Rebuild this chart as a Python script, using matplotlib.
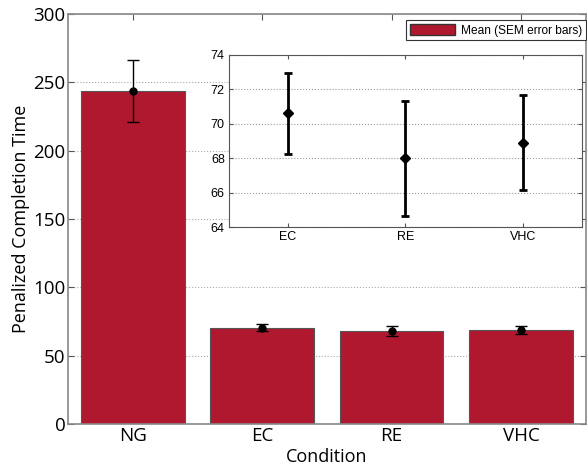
import numpy as np
import matplotlib
matplotlib.use('Agg')
import matplotlib.pyplot as plt
from matplotlib.patches import Patch

conditions = ['NG', 'EC', 'RE', 'VHC']
means = [243.5, 70.6, 68.0, 68.9]
sems = [22.7, 2.35, 3.35, 2.75]

inset_conditions = ['EC', 'RE', 'VHC']
inset_means = [70.6, 68.0, 68.9]
inset_sems = [2.35, 3.35, 2.75]

bar_color = '#b0182f'
spine_color = '#888888'
main_font = 'Open Sans'
small_font = 'Liberation Sans'

fig = plt.figure(figsize=(5.87, 4.74), dpi=100)
ax = fig.add_axes([0.116, 0.1055, 0.882, 0.865])

x = np.arange(1, len(conditions) + 1)
ax.bar(x, means, width=0.8, color=bar_color, edgecolor='#555555', linewidth=0.8, zorder=2)
ax.errorbar(x, means, yerr=sems, fmt='o', color='k', ms=5, capsize=4,
            elinewidth=1, capthick=1, zorder=3)

ax.set_xlim(0.5, 4.5)
ax.set_ylim(0, 300)
ax.set_xticks(x)
ax.set_xticklabels(conditions, fontsize=13.5, family=main_font)
ax.set_yticks(np.arange(0, 301, 50))
for lab in ax.get_yticklabels():
    lab.set_fontsize(13.5)
    lab.set_family(main_font)
ax.yaxis.grid(True, linestyle=':', color='#aaaaaa', linewidth=0.8, zorder=0)
ax.set_axisbelow(True)
ax.tick_params(direction='in', top=True, right=True, length=4, color='#555555', pad=2)
for s in ax.spines.values():
    s.set_color(spine_color)
    s.set_linewidth(1.2)
ax.set_xlabel('Condition', fontsize=13, family=main_font, labelpad=2)
ax.set_ylabel('Penalized Completion Time', fontsize=13, family=main_font, labelpad=2)

leg = ax.legend(handles=[Patch(facecolor=bar_color, edgecolor='#333333', label='Mean (SEM error bars)')],
                loc='upper right', bbox_to_anchor=(1.0, 0.985),
                prop={'family': small_font, 'size': 8.6},
                fancybox=False, framealpha=1, edgecolor='#333333',
                borderpad=0.3, handlelength=3.8, handleheight=1.1, handletextpad=0.5,
                borderaxespad=0.0)
leg.get_frame().set_linewidth(0.8)

# inset zoom on the three small conditions
ins = fig.add_axes([0.390, 0.521, 0.601, 0.363])
xi = np.arange(1, len(inset_conditions) + 1)
ins.errorbar(xi, inset_means, yerr=inset_sems, fmt='D', color='k', ms=5, capsize=3,
             elinewidth=2, capthick=2, zorder=3)
ins.set_xlim(0.5, 3.5)
ins.set_ylim(64, 74)
ins.set_xticks(xi)
ins.set_xticklabels(inset_conditions, fontsize=9, family=small_font)
ins.set_yticks(np.arange(64, 75, 2))
for lab in ins.get_yticklabels():
    lab.set_fontsize(9)
    lab.set_family(small_font)
ins.yaxis.grid(True, linestyle=':', color='#999999', linewidth=0.8)
ins.tick_params(direction='in', top=True, right=True, length=3, color='#555555', pad=3)
for s in ins.spines.values():
    s.set_color('#555555')
    s.set_linewidth(0.8)

fig.savefig('out.png', dpi=100)
